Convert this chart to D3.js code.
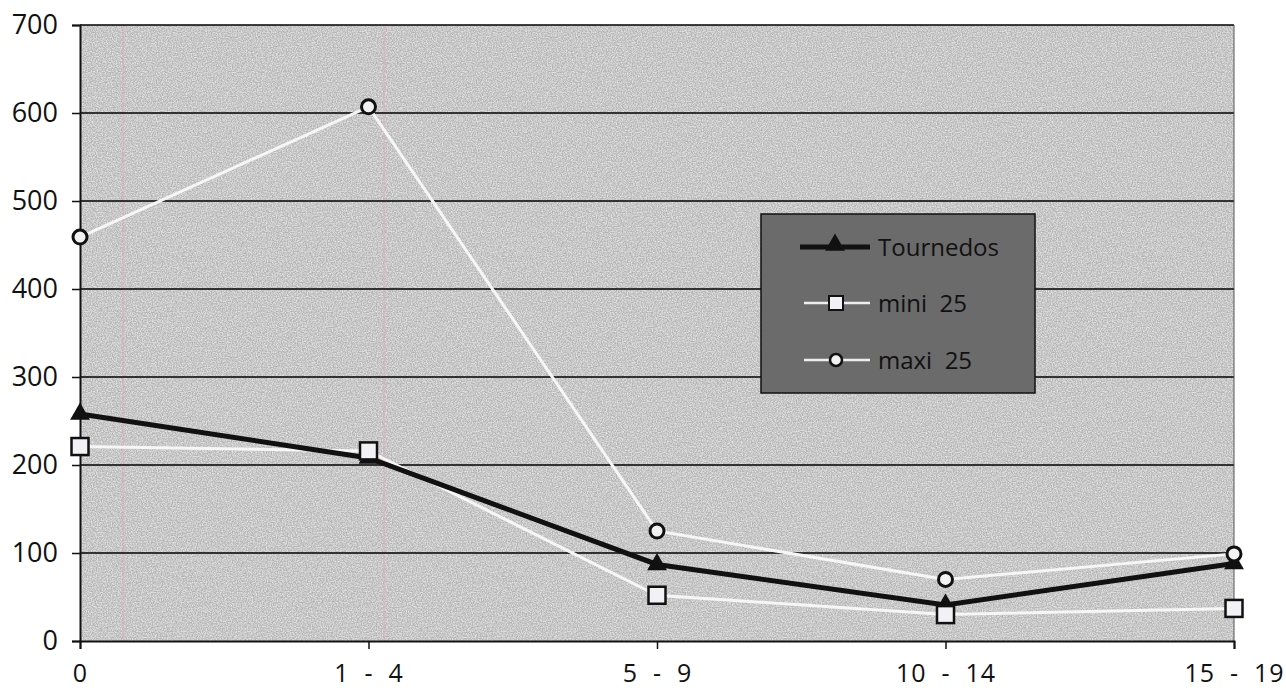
<!DOCTYPE html>
<html>
<head>
<meta charset="utf-8">
<script src="https://cdn.jsdelivr.net/npm/d3@7"></script>
<style>
  html, body { margin: 0; padding: 0; background: #fff; }
  svg { display: block; }
  text { font-family: "Open Sans", "DejaVu Sans", sans-serif; fill: #111; }
</style>
</head>
<body>
<div id="chart"></div>
<script>
// categories and series
var categories = ["0", "1 - 4", "5 - 9", "10 - 14", "15 - 19"];
var tournedos = [258, 208, 87, 41, 88];
var mini25 = [221, 216, 52, 30, 37];
var maxi25 = [459, 607, 125, 70, 99];
var yTicks = [0, 100, 200, 300, 400, 500, 600, 700];

var W = 1286, H = 692;
var margin = {top: 25, right: 52, bottom: 51, left: 80},
    width = W - margin.left - margin.right,
    height = H - margin.top - margin.bottom;

var svg = d3.select("#chart").append("svg")
    .attr("width", W)
    .attr("height", H);

// grainy paper look of the plot area
var defs = svg.append("defs");
var f = defs.append("filter").attr("id", "grain")
    .attr("x", 0).attr("y", 0).attr("width", "100%").attr("height", "100%");
f.append("feTurbulence")
    .attr("type", "fractalNoise")
    .attr("baseFrequency", 0.8)
    .attr("numOctaves", 2)
    .attr("seed", 3);
f.append("feColorMatrix")
    .attr("type", "matrix")
    .attr("values", "0 0 0 0 1  0 0 0 0 1  0 0 0 0 1  0 0 0 -2.2 1.55");

var g = svg.append("g")
    .attr("transform", "translate(" + margin.left + "," + margin.top + ")");

var x = d3.scalePoint().domain(categories).range([0, width]);
var y = d3.scaleLinear().domain([0, 700]).range([height, 0]);

g.append("rect")
    .attr("width", width).attr("height", height)
    .attr("fill", "#b4b4b4");
g.append("rect")
    .attr("width", width).attr("height", height)
    .attr("fill", "#000")
    .attr("filter", "url(#grain)")
    .attr("opacity", 0.6);

// faint pink scan streaks
[43, 304].forEach(function(px) {
    g.append("line")
        .attr("x1", px).attr("x2", px)
        .attr("y1", 0).attr("y2", height)
        .attr("stroke", "#e8a0b4")
        .attr("stroke-width", 1)
        .attr("opacity", 0.7);
});

// gridlines
g.append("g")
    .selectAll("line")
    .data(yTicks.slice(1))
    .enter().append("line")
    .attr("x1", 0).attr("x2", width)
    .attr("y1", function(d) { return y(d); })
    .attr("y2", function(d) { return y(d); })
    .attr("stroke", "#000")
    .attr("stroke-width", 1.3);

g.append("line")
    .attr("x1", width).attr("x2", width)
    .attr("y1", 0).attr("y2", height)
    .attr("stroke", "#555").attr("stroke-width", 1);

// axes
var yAxis = d3.axisLeft(y).tickValues(yTicks).tickSize(8).tickPadding(14);
var yg = g.append("g").call(yAxis);
yg.select(".domain").attr("stroke", "#111").attr("stroke-width", 2);
yg.selectAll(".tick line").attr("stroke", "#111").attr("stroke-width", 1.5);
yg.selectAll(".tick text")
    .style("font-size", "27px")
    .style("font-family", "'Open Sans', 'DejaVu Sans', sans-serif")
    .attr("fill", "#111");

var xAxis = d3.axisBottom(x).tickSize(8).tickPadding(15);
var xg = g.append("g").attr("transform", "translate(0," + height + ")").call(xAxis);
xg.select(".domain").attr("stroke", "#111").attr("stroke-width", 2);
xg.selectAll(".tick line").attr("stroke", "#111").attr("stroke-width", 1.5);
xg.selectAll(".tick text")
    .style("font-size", "25px")
    .style("font-family", "'Open Sans', 'DejaVu Sans', sans-serif")
    .style("white-space", "pre")
    .style("letter-spacing", "1px")
    .attr("fill", "#111")
    .text(function(d) { return d.replace(/ - /g, "  -  "); });

var line = d3.line()
    .x(function(d, i) { return x(categories[i]); })
    .y(function(d) { return y(d); });

// series paths
g.append("path").datum(maxi25)
    .attr("d", line).attr("fill", "none")
    .attr("stroke", "#f6f6f6").attr("stroke-width", 3);
g.append("path").datum(mini25)
    .attr("d", line).attr("fill", "none")
    .attr("stroke", "#f6f6f6").attr("stroke-width", 3);
g.append("path").datum(tournedos)
    .attr("d", line).attr("fill", "none")
    .attr("stroke", "#111").attr("stroke-width", 5);

var tri = d3.symbol().type(d3.symbolTriangle).size(170);

function drawSquares(sel, data) {
    sel.selectAll(null).data(data).enter().append("rect")
        .attr("x", function(d, i) { return x(categories[i]) - 8.5; })
        .attr("y", function(d) { return y(d) - 8.5; })
        .attr("width", 17).attr("height", 17)
        .attr("fill", "#f2f2f6").attr("stroke", "#111").attr("stroke-width", 2.5);
}
function drawCircles(sel, data) {
    sel.selectAll(null).data(data).enter().append("circle")
        .attr("cx", function(d, i) { return x(categories[i]); })
        .attr("cy", function(d) { return y(d); })
        .attr("r", 7)
        .attr("fill", "#f2f2f2").attr("stroke", "#111").attr("stroke-width", 3);
}
function drawTriangles(sel, data) {
    sel.selectAll(null).data(data).enter().append("path")
        .attr("d", tri)
        .attr("transform", function(d, i) {
            return "translate(" + x(categories[i]) + "," + y(d) + ")";
        })
        .attr("fill", "#111");
}

var marks = g.append("g");
drawTriangles(marks, tournedos);
drawCircles(marks, maxi25);
drawSquares(marks, mini25);

// legend
var legend = svg.append("g").attr("transform", "translate(761,214)");
legend.append("rect")
    .attr("width", 274).attr("height", 179)
    .attr("fill", "#6b6b6b")
    .attr("stroke", "#111").attr("stroke-width", 1.5);

var items = [
    {name: "Tournedos", type: "tri", dy: 33},
    {name: "mini 25", type: "sq", dy: 89},
    {name: "maxi 25", type: "ci", dy: 146}
];
items.forEach(function(it) {
    var r = legend.append("g").attr("transform", "translate(0," + it.dy + ")");
    if (it.type === "tri") {
        r.append("line").attr("x1", 39).attr("x2", 109)
            .attr("stroke", "#111").attr("stroke-width", 5);
        r.append("path").attr("d", tri).attr("transform", "translate(74,-2)").attr("fill", "#111");
    } else {
        r.append("line").attr("x1", 43).attr("x2", 109)
            .attr("stroke", "#eee").attr("stroke-width", 2.5);
        if (it.type === "sq") {
            r.append("rect").attr("x", 68).attr("y", -7).attr("width", 14).attr("height", 14)
                .attr("fill", "#f2f2f6").attr("stroke", "#111").attr("stroke-width", 2);
        } else {
            r.append("circle").attr("cx", 75).attr("r", 6)
                .attr("fill", "#f2f2f2").attr("stroke", "#111").attr("stroke-width", 2.5);
        }
    }
    r.append("text")
        .attr("x", 117).attr("y", 9)
        .style("font-size", "24px")
        .style("white-space", "pre")
        .text(it.name.replace(" ", "  "));
});
</script>
</body>
</html>
